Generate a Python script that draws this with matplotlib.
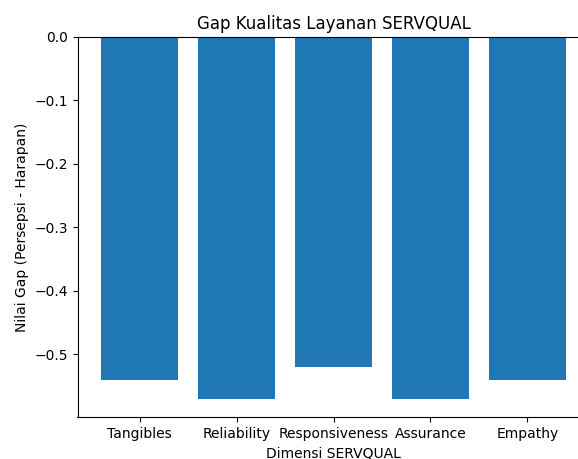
import matplotlib
matplotlib.use("Agg")
import matplotlib.pyplot as plt

# Data
dimensi = ["Tangibles", "Reliability", "Responsiveness", "Assurance", "Empathy"]
gap = [-0.54, -0.57, -0.52, -0.57, -0.54]

fig = plt.figure(figsize=(5.78, 4.59), dpi=100)
# reference is a cropped screenshot: right spine falls outside the image
ax = fig.add_axes([77.5 / 578, 42 / 459, 512 / 578, 380 / 459])
ax.bar(dimensi, gap, color="#1f77b4")
ax.set_title("Gap Kualitas Layanan SERVQUAL")
ax.set_xlabel("Dimensi SERVQUAL")
ax.set_ylabel("Nilai Gap (Persepsi - Harapan)")
fig.savefig("out.png", dpi=100)
